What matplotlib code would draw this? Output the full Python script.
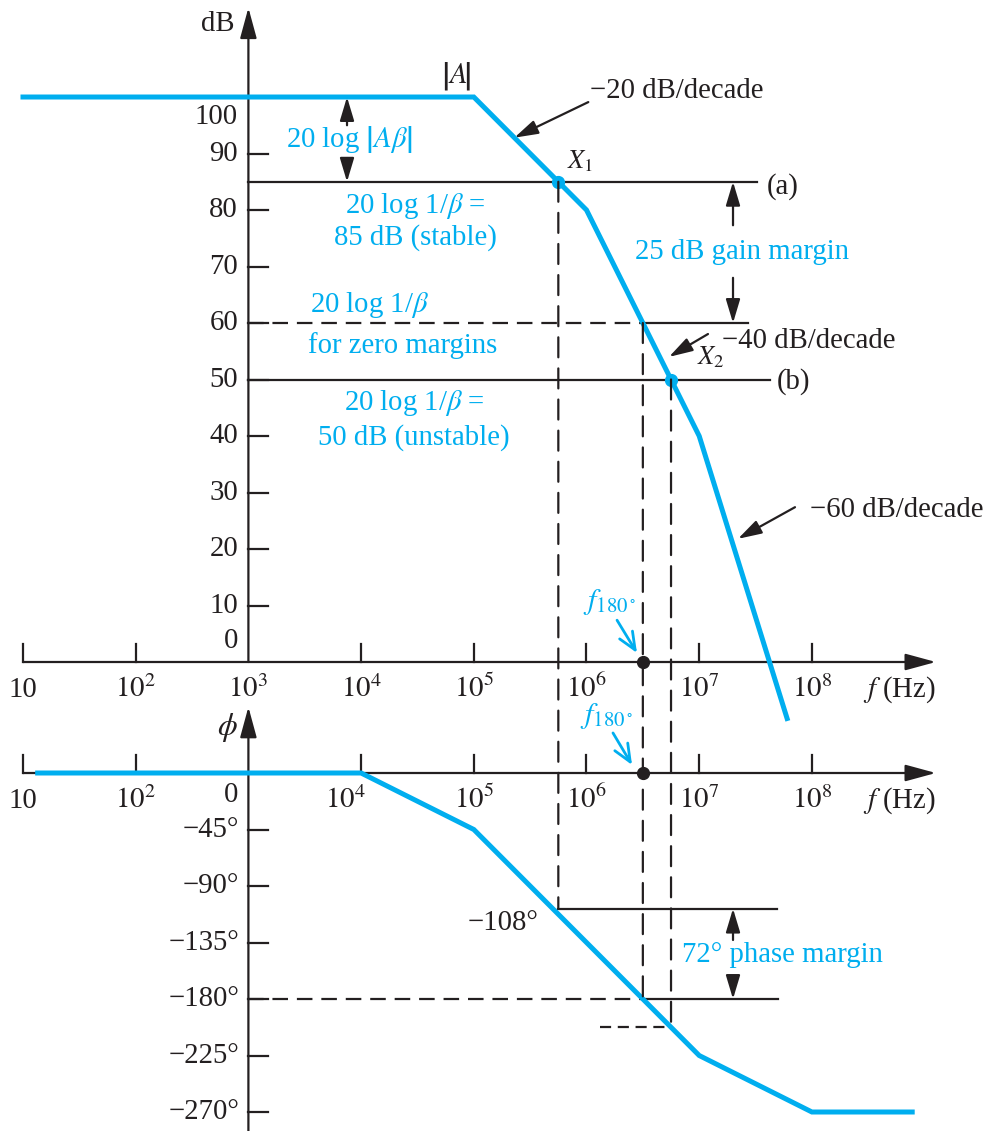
import numpy as np
import matplotlib
matplotlib.use("Agg")
import matplotlib.pyplot as plt
from matplotlib.patches import ConnectionPatch

plt.rcParams['font.family'] = ['Liberation Serif', 'DejaVu Serif']
plt.rcParams['mathtext.fontset'] = 'stix'

# ---------------- data ----------------
decade_exps = [1, 2, 3, 4, 5, 6, 7, 8]
db_ticks = [10, 20, 30, 40, 50, 60, 70, 80, 90]
db_labels = [0, 10, 20, 30, 40, 50, 60, 70, 80, 90, 100]
deg_ticks = [-45, -90, -135, -180, -225, -270]

# |A| asymptotic magnitude (Hz, dB)
gain_f = [1e1, 1e5, 1e6, 1e7, 10**7.78]
gain_db = [100, 100, 80, 40, -10]
# phase of A (Hz, degrees)
phase_f = [10**1.13, 1e4, 1e5, 1e7, 1e8, 10**8.89]
phase_deg = [0, 0, -45, -225, -270, -270]

beta_a_db = 85      # 20 log 1/beta, stable case
beta_zero_db = 60   # zero margins
beta_b_db = 50      # unstable case
phase_x1_deg = -108
phase_crit_deg = -180

CYAN = '#00AEEF'
INK = '#231F20'
FS = 20.7

lgf = np.log10(gain_f)
f_x1 = 10**np.interp(-beta_a_db, -np.array(gain_db), lgf)
f_180 = 10**np.interp(-beta_zero_db, -np.array(gain_db), lgf)
f_x2 = 10**np.interp(-beta_b_db, -np.array(gain_db), lgf)
phase_x2 = np.interp(np.log10(f_x2), np.log10(phase_f), phase_deg)

# ---------------- figure / axes ----------------
fig = plt.figure(figsize=(9.98, 11.31), dpi=100)
ax1 = fig.add_axes([0, 0, 1, 1])
ax2 = fig.add_axes([0, 0, 1, 1], sharex=ax1)
for a in (ax1, ax2):
    a.set_xscale('log')
    a.axis('off')
    a.patch.set_alpha(0)
ax1.set_xlim(10**0.79592, 10**9.6513)
ax1.set_ylim(-83.01, 117.17)
ax2.set_ylim(-285.13, 615.66)

LW = 1.6
dash = (0, (7, 4))
axis_arrow = dict(arrowstyle='-|>,head_length=1.25,head_width=0.34', lw=LW,
                  color=INK, shrinkA=0, shrinkB=0, mutation_scale=15)
small_arrow = dict(arrowstyle='-|>,head_length=0.8,head_width=0.24', lw=LW,
                   color=INK, shrinkA=0, shrinkB=0, mutation_scale=18)


def arrow(ax, tail, head, props=small_arrow):
    ax.annotate('', xy=head, xytext=tail, arrowprops=props)


# ---------------- magnitude panel ----------------
arrow(ax1, (10, 0), (10**9.1, 0), axis_arrow)
arrow(ax1, (1e3, 0), (1e3, 115.8), axis_arrow)
for e in decade_exps:
    if e != 3:
        ax1.plot([10**e, 10**e], [0, 3.2], color=INK, lw=LW)
    lab = '10' if e == 1 else r'$10^{%d}$' % e
    ax1.text(10**e, -6.2, lab, ha='center', va='baseline', fontsize=FS, color=INK)
ax1.text(10**8.453, -6.2, r'$f$ (Hz)', ha='left', va='baseline', fontsize=FS, color=INK)
ax1.text(10**2.726, 113.0, 'dB', ha='center', va='center', fontsize=FS, color=INK)
for v in db_ticks:
    ax1.plot([1e3, 10**3.1775], [v, v], color=INK, lw=LW)
for v in db_labels:
    y = {0: 3.7, 100: 96.5}.get(v, v)
    ax1.text(10**2.908, y, str(v), ha='right', va='center', fontsize=FS, color=INK)

# 20 log 1/beta lines
ax1.plot([1e3, 10**7.513], [beta_a_db] * 2, color=INK, lw=LW)
ax1.plot([1e3, 10**7.628], [beta_b_db] * 2, color=INK, lw=LW)
ax1.plot([1e3, f_180], [beta_zero_db] * 2, color=INK, lw=LW, linestyle=dash)
ax1.plot([f_180, 10**7.433], [beta_zero_db] * 2, color=INK, lw=LW)

# gain curve
ax1.plot(gain_f, gain_db, color=CYAN, lw=3.6, solid_joinstyle='miter', zorder=5)
ax1.plot([f_x1, f_x2], [beta_a_db, beta_b_db], 'o', color=CYAN, ms=8.5, zorder=6)
ax1.plot([f_180], [0], 'o', color=INK, ms=8.5, zorder=6)

ax1.text(10**4.842, 103.7, r'$\left|A^{\,}_{\,}\!\!\!\right|$', ha='center', va='center',
         fontsize=FS, color=INK)
ax1.text(10**5.827, 87.4, r'$X_1$', ha='left', va='baseline', fontsize=19, color=INK)
ax1.text(10**6.98, 52.6, r'$X_2$', ha='left', va='baseline', fontsize=19, color=INK)
ax1.text(10**7.60, 84.1, '(a)', ha='left', va='center', fontsize=FS, color=INK)
ax1.text(10**7.69, 49.6, '(b)', ha='left', va='center', fontsize=FS, color=INK)

ax1.text(10**6.031, 99.8, '\u221220 dB/decade', ha='left', va='baseline', fontsize=FS, color=INK)
arrow(ax1, (10**6.016, 99.1), (10**5.36, 92.8))
ax1.text(10**7.202, 55.6, '\u221240 dB/decade', ha='left', va='baseline', fontsize=FS, color=INK)
arrow(ax1, (10**7.078, 58.05), (10**6.732, 54.0))
ax1.text(10**7.983, 25.7, '\u221260 dB/decade', ha='left', va='baseline', fontsize=FS, color=INK)
arrow(ax1, (10**7.85, 27.4), (10**7.344, 21.8))

# loop-gain bracket
arrow(ax1, (10**3.875, 95.0), (10**3.875, 100))
arrow(ax1, (10**3.875, 89.2), (10**3.875, beta_a_db))
ax1.text(10**3.90, 91.2, r'20 log $\left|A\beta\right|$', ha='center', va='baseline',
         fontsize=FS, color=CYAN)

# gain margin bracket
arrow(ax1, (10**7.30, 77.3), (10**7.30, beta_a_db))
arrow(ax1, (10**7.30, 68.0), (10**7.30, beta_zero_db))
ax1.text(10**7.38, 71.3, '25 dB gain margin', ha='center', va='baseline', fontsize=FS, color=CYAN)

ax1.text(10**4.478, 79.5, r'20 log 1/$\beta$ =', ha='center', va='baseline', fontsize=FS, color=CYAN)
ax1.text(10**4.478, 73.8, '85 dB (stable)', ha='center', va='baseline', fontsize=FS, color=CYAN)
ax1.text(10**4.079, 61.9, r'20 log 1/$\beta$', ha='center', va='baseline', fontsize=FS, color=CYAN)
ax1.text(10**4.372, 54.7, 'for zero margins', ha='center', va='baseline', fontsize=FS, color=CYAN)
ax1.text(10**4.469, 44.6, r'20 log 1/$\beta$ =', ha='center', va='baseline', fontsize=FS, color=CYAN)
ax1.text(10**4.469, 38.5, '50 dB (unstable)', ha='center', va='baseline', fontsize=FS, color=CYAN)

f180_lab = r'$f_{180\,^{\circ}}$'
cyan_arrow = dict(arrowstyle='->,head_length=0.7,head_width=0.3', lw=2.0, color=CYAN,
                  shrinkA=0, shrinkB=0, mutation_scale=18)
ax1.text(10**5.969, 10.6, f180_lab, ha='left', va='center', fontsize=21.5, color=CYAN)
arrow(ax1, (10**6.271, 7.4), (10**6.448, 1.6), cyan_arrow)

# ---------------- phase panel ----------------
arrow(ax2, (10, 0), (10**9.1, 0), axis_arrow)
arrow(ax2, (1e3, -285.13), (1e3, 52.6), axis_arrow)
for e in decade_exps:
    if e == 3:
        continue
    ax2.plot([10**e, 10**e], [0, 14.3], color=INK, lw=LW)
    lab = '10' if e == 1 else r'$10^{%d}$' % e
    x = 10**3.857 if e == 4 else 10**e
    ax2.text(x, -27.9, lab, ha='center', va='baseline', fontsize=FS, color=INK)
ax2.text(10**8.453, -27.9, r'$f$ (Hz)', ha='left', va='baseline', fontsize=FS, color=INK)
ax2.text(10**2.908, -23.1, '0', ha='right', va='baseline', fontsize=FS, color=INK)
ax2.text(10**2.81, 36.6, r'$\phi$', ha='center', va='center', fontsize=FS + 2, color=INK)
for v in deg_ticks:
    ax2.plot([1e3, 10**3.1775], [v, v], color=INK, lw=LW)
    ax2.text(10**2.9166, v, '\u2212%d\u00b0' % (-v), ha='right', va='center',
             fontsize=FS, color=INK)

ax2.plot([f_x1, 10**7.69], [phase_x1_deg] * 2, color=INK, lw=LW)
ax2.plot([1e3, f_180], [phase_crit_deg] * 2, color=INK, lw=LW, linestyle=dash)
ax2.plot([f_180, 10**7.70], [phase_crit_deg] * 2, color=INK, lw=LW)
ax2.plot([10**6.12, f_x2], [phase_x2] * 2, color=INK, lw=LW, linestyle=(0, (5, 3)))

ax2.plot(phase_f, phase_deg, color=CYAN, lw=3.6, solid_joinstyle='miter', zorder=5)
ax2.plot([f_180], [0], 'o', color=INK, ms=8.5, zorder=6)

ax2.text(10**5.570, -125.0, '\u2212108\u00b0', ha='right', va='baseline', fontsize=FS, color=INK)
arrow(ax2, (10**7.30, -133.0), (10**7.30, phase_x1_deg))
arrow(ax2, (10**7.30, -163.3), (10**7.30, phase_crit_deg))
ax2.text(10**6.847, -150.5, '72\u00b0 phase margin', ha='left', va='baseline',
         fontsize=FS, color=CYAN)

ax2.text(10**5.942, 45.4, f180_lab, ha='left', va='center', fontsize=21.5, color=CYAN)
arrow(ax2, (10**6.235, 31.9), (10**6.404, 6.4), cyan_arrow)

# dashed verticals running from the magnitude plot into the phase plot
for f, db, deg in [(f_x1, beta_a_db, phase_x1_deg),
                   (f_180, beta_zero_db, phase_crit_deg),
                   (f_x2, beta_b_db, phase_x2)]:
    con = ConnectionPatch(xyA=(f, db), coordsA=ax1.transData,
                          xyB=(f, deg), coordsB=ax2.transData,
                          color=INK, lw=LW, linestyle=(0, (9, 5)))
    fig.add_artist(con)

fig.savefig('out.png', dpi=100, facecolor='white')
